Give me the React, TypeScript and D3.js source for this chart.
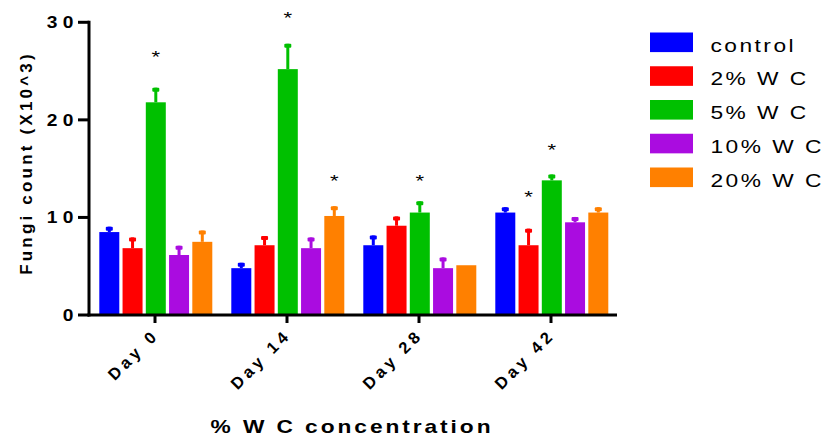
import React from "react";
import * as d3 from "d3";

const days = ["Day 0", "Day 14", "Day 28", "Day 42"];
const series = ["control", "2% W C", "5% W C", "10% W C", "20% W C"];
const colors = ["#0000ff", "#ff0000", "#00c000", "#aa0ce0", "#ff8000"];

// mean values per series across days
const control = [8.5, 4.8, 7.15, 10.5];
const wc2 = [6.85, 7.15, 9.15, 7.15];
const wc5 = [21.8, 25.2, 10.5, 13.8];
const wc10 = [6.15, 6.85, 4.8, 9.5];
const wc20 = [7.5, 10.15, 5.1, 10.5];

// upper error bar ends
const controlErr = [9.05, 5.35, 8.15, 11.05];
const wc2Err = [7.95, 8.1, 10.1, 8.85];
const wc5Err = [23.3, 27.8, 11.65, 14.4];
const wc10Err = [7.1, 7.95, 5.9, 10.05];
const wc20Err = [8.65, 11.15, 5.1, 11.05];

// significance markers: [day index, series index, value height]
const stars: [number, number, number][] = [
  [0, 2, 26.7],
  [1, 2, 30.7],
  [1, 4, 14.0],
  [2, 2, 14.0],
  [3, 1, 12.4],
  [3, 2, 17.2],
];

const yTicks = [0, 10, 20, 30];

const values = [control, wc2, wc5, wc10, wc20];
const errs = [controlErr, wc2Err, wc5Err, wc10Err, wc20Err];

export default function App() {
  const W = 825;
  const H = 435;
  const left = 89;
  const right = 617;
  const top = 22.3;
  const bottom = 315;

  const y = d3.scaleLinear().domain([0, 30]).range([bottom, top]);
  const x0 = d3.scaleBand<string>().domain(days).range([left, right]).padding(0);
  const x1 = d3
    .scaleBand<string>()
    .domain(series)
    .range([10.3, 123.3])
    .paddingInner(0.14)
    .paddingOuter(0);

  const font = "'Liberation Sans', Arial, sans-serif";
  const sx = 1.3;

  return (
    <svg
      width={W}
      height={H}
      style={{ position: "absolute", left: 0, top: 0, background: "#fff" }}
      fontFamily={font}
    >
      {/* bars */}
      {days.map((d, di) => (
        <g key={d} transform={`translate(${x0(d)},0)`}>
          {series.map((s, si) => {
            const v = values[si][di];
            const e = errs[si][di];
            const bx = x1(s)!;
            const bw = x1.bandwidth();
            const cx = bx + bw / 2;
            return (
              <g key={s}>
                {e > v && (
                  <>
                    <line
                      x1={cx}
                      x2={cx}
                      y1={y(v)}
                      y2={y(e)}
                      stroke={colors[si]}
                      strokeWidth={3}
                    />
                    <rect
                      x={cx - 3.5}
                      y={y(e)}
                      width={7}
                      height={4}
                      rx={1}
                      fill={colors[si]}
                    />
                  </>
                )}
                <rect
                  x={bx}
                  y={y(v)}
                  width={bw}
                  height={bottom - y(v)}
                  fill={colors[si]}
                />
              </g>
            );
          })}
        </g>
      ))}

      {/* stars */}
      {stars.map(([di, si, v], i) => (
        <text
          key={i}
          transform={`translate(${x0(days[di])! + x1(series[si])! + x1.bandwidth() / 2},${y(v) + 9}) scale(${sx},1)`}
          textAnchor="middle"
          fontSize={17}
          fill="#000"
        >
          *
        </text>
      ))}

      {/* y axis */}
      <line x1={left} x2={left} y1={top - 1.5} y2={bottom + 1.5} stroke="#000" strokeWidth={3} />
      {yTicks.map((t) => (
        <g key={t}>
          <line x1={78} x2={left} y1={y(t)} y2={y(t)} stroke="#000" strokeWidth={3} />
          <text
            transform={`translate(78.5,${y(t) + 6}) scale(1.2,1)`}
            textAnchor="end"
            fontSize={16}
            fontWeight="bold"
            letterSpacing={4.3}
            fill="#000"
          >
            {t}
          </text>
        </g>
      ))}

      {/* x axis */}
      <line x1={left - 1.5} x2={right} y1={bottom} y2={bottom} stroke="#000" strokeWidth={3} />
      {days.map((d) => {
        const cx = x0(d)! + x0.bandwidth() / 2;
        return (
          <g key={d}>
            <line x1={cx} x2={cx} y1={bottom} y2={bottom + 8} stroke="#000" strokeWidth={3} />
            <text
              transform={`translate(${cx + 5},${bottom + 21}) rotate(-45)`}
              textAnchor="end"
              fontSize={16.5}
              fontWeight="bold"
              letterSpacing={4}
              fill="#000"
            >
              {d}
            </text>
          </g>
        );
      })}

      {/* axis titles */}
      <text
        transform={`translate(32,163) rotate(-90)`}
        textAnchor="middle"
        fontSize={17}
        fontWeight="bold"
        letterSpacing={3.2}
        fill="#000"
      >
        Fungi count (X10^3)
      </text>
      <text
        transform={`translate(352,433) scale(${sx},1)`}
        textAnchor="middle"
        fontSize={17.5}
        fontWeight="bold"
        letterSpacing={2.25}
        fill="#000"
      >
        % W C concentration
      </text>

      {/* legend */}
      {series.map((s, i) => {
        const cy = 42.3 + i * 33.75;
        return (
          <g key={s}>
            <rect x={650} y={cy - 9.8} width={43} height={19.6} fill={colors[i]} />
            <text
              transform={`translate(710.5,${cy + 9.4}) scale(${sx},1)`}
              fontSize={17.5}
              letterSpacing={1.9}
              fill="#000"
            >
              {s}
            </text>
          </g>
        );
      })}
    </svg>
  );
}
